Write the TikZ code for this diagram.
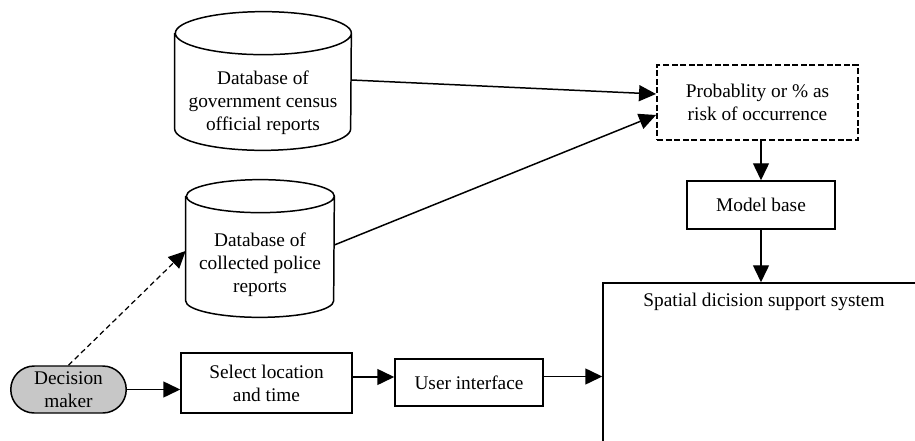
\documentclass[tikz,border=0pt]{standalone}
\usepackage{fontspec}
\setmainfont{Liberation Serif}
\usetikzlibrary{shapes.misc,arrows.meta}

\begin{document}
\begin{tikzpicture}[
  every node/.style={font=\fontsize{11}{13}\selectfont, align=center},
  flow/.style={line width=0.85pt, -{Triangle[length=0.34cm,width=0.32cm]}},
  block/.style={draw, line width=0.85pt, rectangle, inner sep=2pt},
  dbtext/.style={rectangle, inner sep=0pt},
  actor/.style={draw, line width=0.85pt, rounded rectangle, fill=black!22}
]
\useasboundingbox (0,0) rectangle (18.3,8.8);

% outline of a database drum round a text node: name, x radius, y radius
\def\dbcyl#1#2#3{%
  \draw[line width=0.85pt] ([yshift=#3]#1.north west) -- ([yshift=#3]#1.south west)
    arc (180:360:#2 and #3) -- ([yshift=#3]#1.north east)
    arc (0:360:#2 and #3);}

% data sources
\node[dbtext, minimum width=3.52cm, minimum height=1.9cm] (census) at (5.26,6.75)
  {Database of\\government census\\official reports};
\dbcyl{census}{1.76cm}{0.43cm}
\node[dbtext, minimum width=2.96cm, minimum height=2.08cm] (police) at (5.2,3.5)
  {Database of\\collected police\\reports};
\dbcyl{police}{1.48cm}{0.33cm}

% model side
\node[block, dash pattern=on 3.4pt off 1.5pt, line width=1.1pt,
  minimum width=4.02cm, minimum height=1.5cm] (risk) at (15.15,6.75)
  {Probablity or \% as\\risk of occurrence};
\node[block, minimum width=2.96cm, minimum height=0.96cm] (model) at (15.22,4.7) {Model base};

\begin{scope}
\clip (0,0) rectangle (18.3,8.8);
\node[block, minimum width=6.44cm, minimum height=3.74cm,
  label={[anchor=north, yshift=-0.1cm]north:Spatial dicision support system}] (ssds) at (15.28,1.27) {};
\end{scope}

% user side
\node[actor, minimum width=2.38cm, minimum height=0.94cm, inner sep=1pt] (dm) at (1.37,1.01) {Decision\\maker};
\node[block, minimum width=3.42cm, minimum height=1.2cm] (select) at (5.33,1.14) {Select location\\and time};
\node[block, minimum width=2.96cm, minimum height=0.94cm] (ui) at (9.38,1.15) {User interface};

\draw[flow] ([yshift=0.45cm]census.east) -- ([yshift=0.17cm]risk.west);
\draw[flow] ([yshift=0.4cm]police.east) -- ([yshift=-0.25cm]risk.west);
\draw[flow] (model.north |- risk.south) -- (model.north);
\draw[flow] (model.south) -- (model.south |- ssds.north);
\draw[flow, dash pattern=on 3pt off 2pt, line width=0.7pt] (dm.north) -- ([yshift=0.28cm]police.west);
\draw[flow] (dm.east) -- (dm.east -| select.west);
\draw[flow] ([yshift=0.12cm]select.east) -- ([yshift=0.12cm]select.east -| ui.west);
\draw[flow] ([yshift=0.12cm]ui.east) -- ([yshift=0.12cm]ui.east -| ssds.west);

\end{tikzpicture}
\end{document}
